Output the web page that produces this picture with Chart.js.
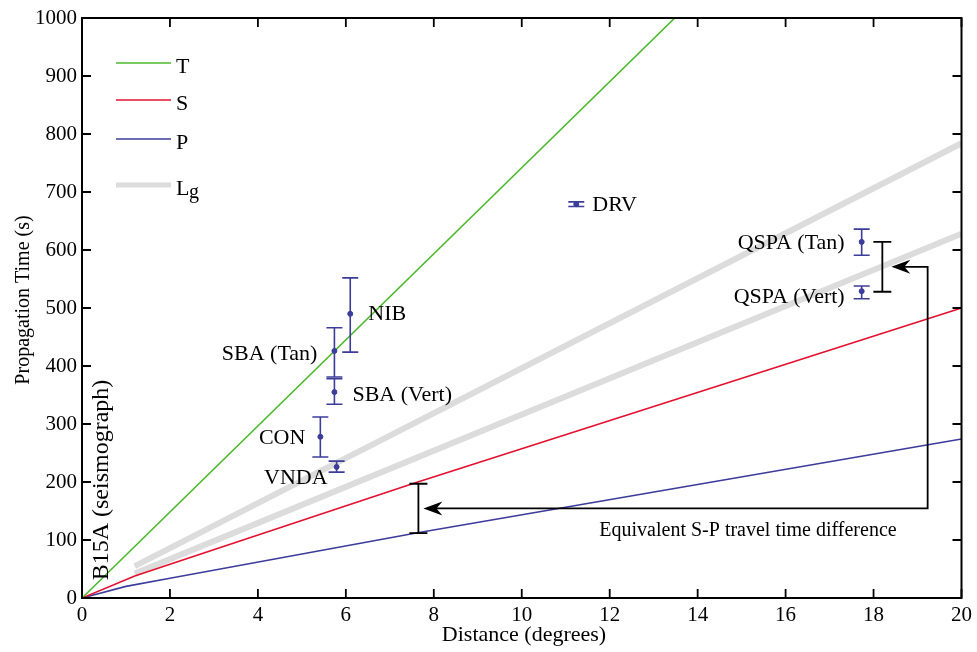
<!DOCTYPE html>
<html>
<head>
<meta charset="utf-8">
<script src="https://cdn.jsdelivr.net/npm/chart.js@4.4.0/dist/chart.umd.min.js"></script>
<style>
  html, body { margin: 0; padding: 0; background: #fff; }
  canvas { display: block; }
</style>
</head>
<body>
<canvas id="travelChart" width="977" height="652"></canvas>
<script>
// travel time curves (distance in degrees, time in s)
const tDist = [0, 13.48];
const tTime = [0, 1000];
const sDist = [0, 1.2, 2, 7.6, 20];
const sTime = [0, 38, 58, 199, 500];
const pDist = [0, 1, 2, 7.6, 20];
const pTime = [0, 20, 34, 112, 274];
const lgUpperDist = [1.2, 20];
const lgUpperTime = [55, 784];
const lgLowerDist = [1.2, 20];
const lgLowerTime = [42, 628];

// stations with error bars
const stationNames = ['NIB', 'SBA (Tan)', 'SBA (Vert)', 'CON', 'VNDA', 'DRV', 'QSPA (Tan)', 'QSPA (Vert)'];
const stationDist = [6.1, 5.74, 5.74, 5.42, 5.79, 11.24, 17.73, 17.73];
const stationTime = [490, 426, 355, 278, 226, 679, 614, 529];
const stationLow = [424, 381, 334, 243, 217, 675, 591, 516];
const stationHigh = [552, 466, 378, 312, 236, 683, 636, 538];

// S-P difference bars
const spDist = [7.65, 18.2];
const spLow = [112, 528];
const spHigh = [197, 614];

const xTicks = [0, 2, 4, 6, 8, 10, 12, 14, 16, 18, 20];
const yTicks = [0, 100, 200, 300, 400, 500, 600, 700, 800, 900, 1000];

const SERIF = "'Liberation Serif', serif";
const BLUE = '#3c3c9a';

Chart.defaults.font.family = SERIF;

function pts(xs, ys) {
    return xs.map((x, i) => ({ x: x, y: ys[i] }));
}

// where the text labels sit relative to their point (pixels)
const labelStyle = [
    { align: 'left', dx: 18, dy: 0 },
    { align: 'right', dx: -17, dy: 3 },
    { align: 'left', dx: 18, dy: 3 },
    { align: 'right', dx: -15, dy: 1 },
    { align: 'right', dx: -9, dy: 11 },
    { align: 'left', dx: 16, dy: 1 },
    { align: 'right', dx: -17, dy: 1 },
    { align: 'right', dx: -17, dy: 6 }
];

const overlay = {
    id: 'overlay',
    afterDatasetsDraw(chart) {
        const ctx = chart.ctx;
        const xs = chart.scales.x, ys = chart.scales.y;
        const a = chart.chartArea;
        ctx.save();

        // station error bars
        ctx.strokeStyle = BLUE;
        ctx.lineWidth = 1.6;
        stationDist.forEach((d, i) => {
            const px = xs.getPixelForValue(d);
            const lo = ys.getPixelForValue(stationLow[i]);
            const hi = ys.getPixelForValue(stationHigh[i]);
            ctx.beginPath();
            ctx.moveTo(px, lo); ctx.lineTo(px, hi);
            ctx.moveTo(px - 8, lo); ctx.lineTo(px + 8, lo);
            ctx.moveTo(px - 8, hi); ctx.lineTo(px + 8, hi);
            ctx.stroke();
        });

        // S-P bars
        ctx.strokeStyle = '#000';
        ctx.lineWidth = 1.8;
        spDist.forEach((d, i) => {
            const px = xs.getPixelForValue(d);
            const lo = ys.getPixelForValue(spLow[i]);
            const hi = ys.getPixelForValue(spHigh[i]);
            ctx.beginPath();
            ctx.moveTo(px, lo); ctx.lineTo(px, hi);
            ctx.moveTo(px - 9, lo); ctx.lineTo(px + 9, lo);
            ctx.moveTo(px - 9, hi); ctx.lineTo(px + 9, hi);
            ctx.stroke();
        });

        // connecting arrow between the two bars
        const ax = xs.getPixelForValue(19.23);
        const yTop = ys.getPixelForValue((spLow[1] + spHigh[1]) / 2);
        const yBot = ys.getPixelForValue((spLow[0] + spHigh[0]) / 2);
        const tipTop = xs.getPixelForValue(spDist[1]) + 9;
        const tipBot = xs.getPixelForValue(spDist[0]) + 5;
        ctx.beginPath();
        ctx.moveTo(tipTop + 10, yTop);
        ctx.lineTo(ax, yTop);
        ctx.lineTo(ax, yBot);
        ctx.lineTo(tipBot + 10, yBot);
        ctx.stroke();
        [[tipTop, yTop], [tipBot, yBot]].forEach(([tx, ty]) => {
            ctx.fillStyle = '#000';
            ctx.beginPath();
            ctx.moveTo(tx, ty);
            ctx.lineTo(tx + 19, ty - 7);
            ctx.lineTo(tx + 13, ty);
            ctx.lineTo(tx + 19, ty + 7);
            ctx.closePath();
            ctx.fill();
        });

        // labels
        ctx.fillStyle = '#000';
        ctx.textBaseline = 'middle';
        ctx.font = '22px ' + SERIF;
        stationNames.forEach((n, i) => {
            const s = labelStyle[i];
            ctx.textAlign = s.align;
            ctx.fillText(n, xs.getPixelForValue(stationDist[i]) + s.dx,
                ys.getPixelForValue(stationTime[i]) + s.dy);
        });
        ctx.font = '20px ' + SERIF;
        ctx.textAlign = 'center';
        ctx.fillText('Equivalent S-P travel time difference', 748, 531);

        ctx.save();
        ctx.translate(102, 480);
        ctx.rotate(-Math.PI / 2);
        ctx.font = '24px ' + SERIF;
        ctx.fillText('B15A (seismograph)', 0, 0);
        ctx.restore();

        // legend
        const leg = [
            { c: '#4cb82c', w: 1.6, t: 'T', y: 63 },
            { c: '#e3102f', w: 1.6, t: 'S', y: 100 },
            { c: BLUE, w: 1.6, t: 'P', y: 139 },
            { c: '#dcdcdc', w: 5, t: 'L', y: 185 }
        ];
        ctx.textAlign = 'left';
        leg.forEach(l => {
            ctx.strokeStyle = l.c;
            ctx.lineWidth = l.w;
            ctx.beginPath();
            ctx.moveTo(116, l.y); ctx.lineTo(171, l.y);
            ctx.stroke();
            ctx.font = '22px ' + SERIF;
            ctx.fillText(l.t, 176, l.y + 4);
        });
        ctx.font = '20px ' + SERIF;
        ctx.fillText('g', 189, 193);

        // box and inward ticks
        ctx.strokeStyle = '#000';
        ctx.lineWidth = 2;
        ctx.strokeRect(a.left, a.top, a.right - a.left, a.bottom - a.top);
        ctx.lineWidth = 1.8;
        ctx.beginPath();
        xTicks.forEach(v => {
            const px = xs.getPixelForValue(v);
            ctx.moveTo(px, a.bottom); ctx.lineTo(px, a.bottom - 9);
            ctx.moveTo(px, a.top); ctx.lineTo(px, a.top + 9);
        });
        yTicks.forEach(v => {
            const py = ys.getPixelForValue(v);
            ctx.moveTo(a.left, py); ctx.lineTo(a.left + 9, py);
            ctx.moveTo(a.right, py); ctx.lineTo(a.right - 9, py);
        });
        ctx.stroke();

        // axis titles
        ctx.font = '22px ' + SERIF;
        ctx.textAlign = 'center';
        ctx.fillText('Distance (degrees)', 524, 635);
        ctx.save();
        ctx.translate(24, 300);
        ctx.rotate(-Math.PI / 2);
        ctx.font = '20px ' + SERIF;
        ctx.fillText('Propagation Time (s)', 0, 0);
        ctx.restore();

        ctx.restore();
    }
};

const data = {
    datasets: [
        {
            label: 'Stations',
            data: pts(stationDist, stationTime),
            backgroundColor: BLUE,
            borderColor: BLUE,
            pointRadius: 2.5,
            showLine: false
        },
        {
            label: 'T',
            data: pts(tDist, tTime),
            borderColor: '#4cb82c',
            borderWidth: 1.6,
            showLine: true,
            pointRadius: 0
        },
        {
            label: 'S',
            data: pts(sDist, sTime),
            borderColor: '#e3102f',
            borderWidth: 1.6,
            showLine: true,
            pointRadius: 0
        },
        {
            label: 'P',
            data: pts(pDist, pTime),
            borderColor: BLUE,
            borderWidth: 1.6,
            showLine: true,
            pointRadius: 0
        },
        {
            label: 'Lg',
            data: pts(lgUpperDist, lgUpperTime),
            borderColor: '#dcdcdc',
            borderWidth: 6,
            showLine: true,
            pointRadius: 0
        },
        {
            label: 'Lg2',
            data: pts(lgLowerDist, lgLowerTime),
            borderColor: '#dcdcdc',
            borderWidth: 6,
            showLine: true,
            pointRadius: 0
        }
    ]
};

const config = {
    type: 'scatter',
    data: data,
    options: {
        responsive: false,
        animation: false,
        devicePixelRatio: 1,
        layout: { padding: { top: 18, right: 14, left: 0, bottom: 0 } },
        scales: {
            x: {
                type: 'linear',
                min: 0,
                max: 20,
                afterBuildTicks: s => { s.ticks = xTicks.map(v => ({ value: v })); },
                afterFit: s => { s.height = 54; },
                grid: { display: false, drawTicks: false },
                border: { display: false },
                ticks: {
                    autoSkip: false,
                    maxRotation: 0,
                    padding: 5,
                    color: '#000',
                    font: { family: SERIF, size: 21 },
                    callback: v => String(v)
                }
            },
            y: {
                min: 0,
                max: 1000,
                afterBuildTicks: s => { s.ticks = yTicks.map(v => ({ value: v })); },
                afterFit: s => { s.width = 82; },
                grid: { display: false, drawTicks: false },
                border: { display: false },
                ticks: {
                    autoSkip: false,
                    padding: 5,
                    color: '#000',
                    font: { family: SERIF, size: 21 },
                    callback: v => String(v)
                }
            }
        },
        plugins: {
            legend: { display: false },
            tooltip: { enabled: false }
        }
    },
    plugins: [overlay]
};

const travelChart = new Chart(document.getElementById('travelChart').getContext('2d'), config);
</script>
</body>
</html>
